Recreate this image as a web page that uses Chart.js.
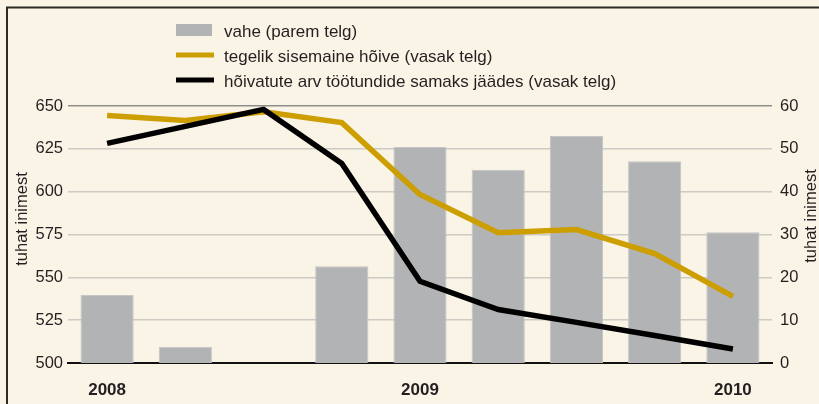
<!DOCTYPE html>
<html>
<head>
<meta charset="utf-8">
<script src="https://cdn.jsdelivr.net/npm/chart.js@4"></script>
<style>
  html, body { margin: 0; padding: 0; background: #faf4e7; }
  canvas { display: block; }
</style>
</head>
<body>
<canvas id="c" width="819" height="404"></canvas>
<script>
// ---- data ----
const categories = ['2008 I', '2008 II', '2008 III', '2008 IV', '2009 I', '2009 II', '2009 III', '2009 IV', '2010 I'];
const tickLabels = ['2008', '', '', '', '2009', '', '', '', '2010'];
const vahe = [15.9, 3.8, 0, 22.6, 50.4, 45.1, 53.0, 47.1, 30.5];
const tegelikHoive = [644.5, 641.6, 646.7, 640.3, 598.4, 576.0, 577.9, 563.9, 538.9];
const hoivatuteArv = [628.2, 638.1, 648.0, 616.5, 547.7, 531.2, 523.7, 516.1, 508.2];
const leftTicks = [500, 525, 550, 575, 600, 625, 650];
const rightTicks = [0, 10, 20, 30, 40, 50, 60];
const labels = ['vahe (parem telg)', 'tegelik sisemaine hõive (vasak telg)', 'hõivatute arv töötundide samaks jäädes (vasak telg)'];
const axisTitle = 'tuhat inimest';

const FONT = "'Liberation Sans', Arial, sans-serif";
const TEXT = '#231f20';

const decor = {
  id: 'decor',
  beforeDraw(chart) {
    const ctx = chart.ctx;
    ctx.save();
    ctx.fillStyle = '#faf4e7';
    ctx.fillRect(0, 0, chart.width, chart.height);
    ctx.restore();
  },
  afterDraw(chart) {
    const ctx = chart.ctx;
    ctx.save();
    // frame
    ctx.strokeStyle = '#2b2b26';
    ctx.lineWidth = 2;
    ctx.beginPath();
    ctx.moveTo(7, chart.height);
    ctx.lineTo(7, 7.5);
    ctx.lineTo(chart.width, 7.5);
    ctx.stroke();
    // legend
    const ds = chart.data.datasets;
    const lx = 176, lw = 38, tx = 224;
    const rows = [32, 57, 82];
    ctx.font = '17px ' + FONT;
    ctx.textBaseline = 'middle';
    ds.forEach((d, i) => {
      const y = rows[i];
      if (d.type === 'bar') {
        ctx.fillStyle = d.backgroundColor;
        ctx.fillRect(lx, y - 8, 36, 12);
      } else {
        ctx.strokeStyle = d.borderColor;
        ctx.lineWidth = 5;
        ctx.beginPath();
        ctx.moveTo(lx, y - 2);
        ctx.lineTo(lx + lw, y - 2);
        ctx.stroke();
      }
      ctx.fillStyle = TEXT;
      ctx.textAlign = 'left';
      ctx.fillText(d.label, tx, y);
    });
    // axis titles
    const drawTitle = (x, y) => {
      ctx.save();
      ctx.translate(x, y);
      ctx.rotate(-Math.PI / 2);
      ctx.textAlign = 'center';
      ctx.textBaseline = 'middle';
      ctx.font = '16.5px ' + FONT;
      ctx.fillStyle = TEXT;
      ctx.fillText(axisTitle, 0, 0);
      ctx.restore();
    };
    drawTitle(22, 219);
    drawTitle(811, 216);
    ctx.restore();
  }
};

new Chart(document.getElementById('c'), {
  data: {
    labels: categories,
    datasets: [
      {
        type: 'bar', label: labels[0], data: vahe, yAxisID: 'yR', order: 3,
        backgroundColor: '#b2b3b5', borderColor: '#c4c5c4', borderWidth: 1,
        barPercentage: 0.68, categoryPercentage: 1
      },
      {
        type: 'line', label: labels[1], data: tegelikHoive, yAxisID: 'yL', order: 2,
        borderColor: '#cc9e00', borderWidth: 5.5, pointRadius: 0, tension: 0,
        borderJoinStyle: 'miter', fill: false
      },
      {
        type: 'line', label: labels[2], data: hoivatuteArv, yAxisID: 'yL', order: 1,
        borderColor: '#000000', borderWidth: 5.5, pointRadius: 0, tension: 0,
        borderJoinStyle: 'miter', fill: false
      }
    ]
  },
  options: {
    responsive: false,
    devicePixelRatio: 1,
    animation: false,
    layout: { padding: { top: 106, left: 0, right: 0, bottom: 0 } },
    plugins: { legend: { display: false }, tooltip: { enabled: false } },
    scales: {
      x: {
        grid: { display: false, drawTicks: false },
        border: { display: true, color: '#111111', width: 2 },
        ticks: {
          autoSkip: false, maxRotation: 0, padding: 17, color: TEXT,
          font: { family: FONT, size: 17, weight: 'bold' },
          callback: (v, i) => tickLabels[i]
        },
        afterFit: s => { s.height = 41; }
      },
      yL: {
        position: 'left', min: leftTicks[0], max: leftTicks[leftTicks.length - 1],
        afterBuildTicks: s => { s.ticks = leftTicks.map(v => ({ value: v })); },
        grid: {
          drawTicks: false, lineWidth: 1.5,
          color: c => c.tick && c.tick.value === 650 ? '#8d8d8a' : (c.tick && c.tick.value === 500 ? 'rgba(0,0,0,0)' : '#cbcac5')
        },
        border: { display: false },
        ticks: { padding: 5, color: TEXT, font: { family: FONT, size: 16.5 } },
        afterFit: s => { s.width = 68; }
      },
      yR: {
        position: 'right', min: rightTicks[0], max: rightTicks[rightTicks.length - 1],
        afterBuildTicks: s => { s.ticks = rightTicks.map(v => ({ value: v })); },
        grid: { display: false, drawTicks: false },
        border: { display: false },
        ticks: { padding: 8, color: TEXT, font: { family: FONT, size: 16.5 } },
        afterFit: s => { s.width = 47; }
      }
    }
  },
  plugins: [decor]
});
</script>
</body>
</html>
